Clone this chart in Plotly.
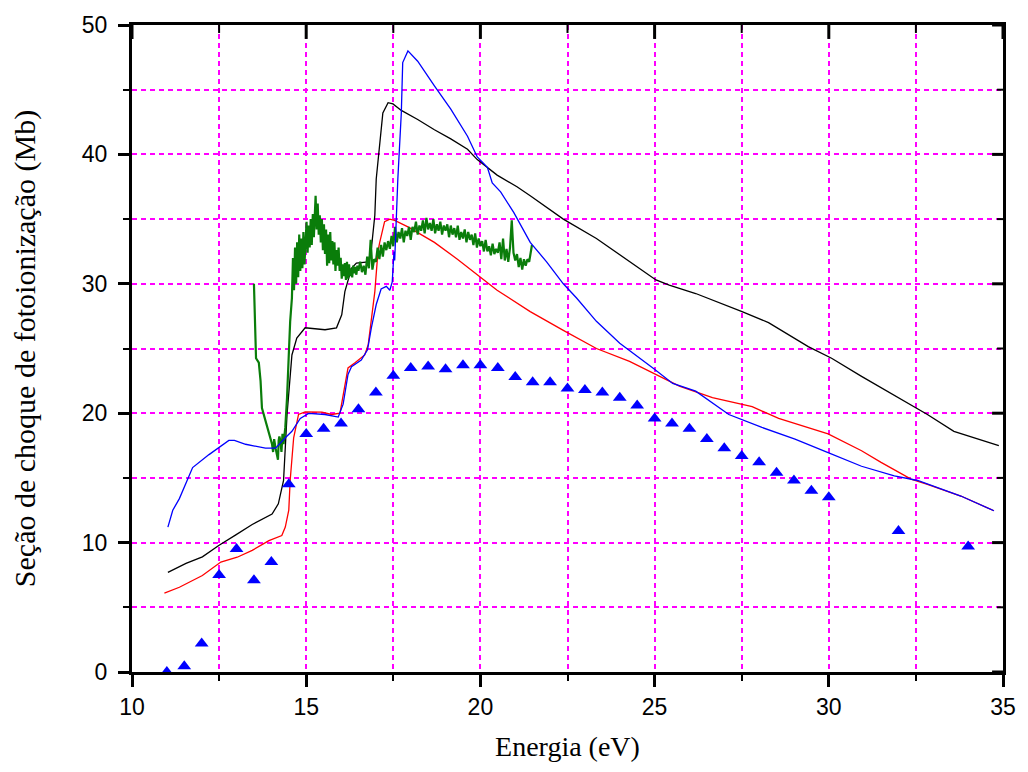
import plotly.graph_objects as go

# ---------------- data ----------------
tri_x = [11.0, 11.5, 12.0, 12.5, 13.0, 13.5, 14.0, 14.5, 15.0, 15.5, 16.0, 16.5, 17.0, 17.5,
         18.0, 18.5, 19.0, 19.5, 20.0, 20.5, 21.0, 21.5, 22.0, 22.5, 23.0, 23.5, 24.0, 24.5,
         25.0, 25.5, 26.0, 26.5, 27.0, 27.5, 28.0, 28.5, 29.0, 29.5, 30.0, 32.0, 34.0]
tri_y = [0.0, 0.45, 2.2, 7.5, 9.5, 7.1, 8.5, 14.5, 18.4, 18.8, 19.2, 20.3, 21.6, 22.9,
         23.5, 23.6, 23.4, 23.7, 23.7, 23.5, 22.8, 22.4, 22.4, 21.9, 21.8, 21.6, 21.2, 20.6,
         19.6, 19.2, 18.8, 18.0, 17.3, 16.7, 16.2, 15.4, 14.8, 14.0, 13.5, 10.9, 9.7]

black_x = [11.03, 11.55, 12.02, 12.5, 12.98, 13.45, 14.02, 14.2, 14.35, 14.45, 14.59, 14.73,
           14.97, 15.54, 15.87, 16.02, 16.11, 16.3, 16.44, 16.78, 16.87, 16.97, 17.01, 17.11,
           17.2, 17.35, 17.49, 17.73, 18.2, 18.68, 19.15, 19.63, 19.91, 20.48, 21.05, 21.43,
           22.38, 23.33, 24.24, 25.04, 25.42, 26.18, 27.51, 28.27, 29.41, 30.08, 30.94, 31.88,
           32.83, 33.59, 34.26, 34.88]
black_y = [7.7, 8.4, 8.9, 9.8, 10.6, 11.4, 12.2, 13.0, 14.8, 19.9, 24.5, 25.8,
           26.6, 26.45, 26.6, 27.6, 29.4, 31.2, 31.6, 31.7, 32.7, 35.3, 38.1, 40.7,
           43.2, 44.0, 43.9, 43.4, 42.7, 41.9, 41.2, 40.4, 39.6, 38.4, 37.5, 36.8,
           35.0, 33.5, 31.8, 30.3, 29.9, 29.25, 27.85, 27.0, 25.15, 24.25, 22.85, 21.4,
           19.9, 18.6, 18.05, 17.5]

red_x = [10.93, 11.36, 12.02, 12.55, 13.02, 13.45, 13.93, 14.3, 14.4, 14.5, 14.54, 14.64,
         14.78, 14.97, 15.45, 15.73, 15.97, 16.11, 16.2, 16.4, 16.68, 16.78, 16.87, 16.97,
         17.06, 17.11, 17.25, 17.4, 17.54, 17.92, 18.68, 19.34, 20.48, 20.96, 21.43, 22.38,
         23.33, 24.28, 25.04, 25.71, 26.66, 27.8, 28.56, 29.98, 30.94, 31.5, 32.36, 32.83,
         33.79, 34.74]
red_y = [6.1, 6.55, 7.46, 8.5, 8.87, 9.4, 10.15, 10.54, 11.2, 12.5, 14.8, 18.1,
         19.9, 20.1, 20.08, 19.9, 20.0, 22.2, 23.5, 23.9, 24.5, 25.3, 27.3, 29.4,
         32.5, 33.2, 34.8, 35.0, 34.9, 34.4, 33.2, 31.9, 29.5, 28.7, 27.85, 26.4,
         25.0, 24.0, 23.0, 22.1, 21.2, 20.5, 19.6, 18.4, 17.1, 16.2, 14.9, 14.5,
         13.6, 12.46]

blue_x = [11.03, 11.17, 11.36, 11.74, 12.21, 12.78, 12.94, 13.26, 13.83, 14.12, 14.4, 14.59,
          14.83, 15.07, 15.54, 15.92, 16.06, 16.2, 16.3, 16.58, 16.76, 16.87, 17.01, 17.15,
          17.3, 17.4, 17.47, 17.52, 17.54, 17.63, 17.73, 17.77, 17.92, 18.2, 18.68, 19.15,
          19.63, 19.91, 20.2, 20.34, 20.58, 20.96, 21.43, 21.9, 22.38, 22.76, 23.33, 24.0,
          24.95, 25.52, 26.18, 27.13, 28.08, 29.03, 29.98, 30.94, 31.88, 32.55, 33.79, 34.74]
blue_y = [11.2, 12.5, 13.4, 15.8, 16.8, 17.9, 17.9, 17.6, 17.3, 17.3, 18.1, 18.6,
          19.6, 19.98, 19.9, 19.7, 20.7, 23.0, 23.6, 24.1, 24.9, 26.6, 28.4, 29.6,
          29.8, 29.5, 30.15, 32.5, 31.8, 38.1, 43.2, 47.1, 48.0, 47.2, 45.3, 43.5,
          41.4, 39.8, 39.0, 37.8, 37.1, 35.5, 33.2, 31.7, 30.0, 28.9, 27.1, 25.4,
          23.5, 22.3, 21.7, 19.9, 18.9, 18.0, 16.95, 15.9, 15.15, 14.8, 13.6, 12.46]

green_x = [13.50, 13.53, 13.56, 13.64, 13.69, 13.73, 13.83, 13.93, 14.02, 14.05, 14.08, 14.12,
           14.16, 14.19, 14.21, 14.23, 14.26, 14.29, 14.32, 14.35, 14.40, 14.45, 14.50, 14.54,
           14.59,
           14.62, 14.65, 14.68, 14.71, 14.74, 14.77, 14.80, 14.83, 14.86, 14.89, 14.92, 14.95,
           14.98, 15.01, 15.04, 15.07, 15.10, 15.13, 15.16, 15.19, 15.22, 15.25, 15.27, 15.30,
           15.33, 15.36, 15.39, 15.42, 15.45, 15.48, 15.51, 15.54, 15.57, 15.60, 15.63, 15.66,
           15.69, 15.72, 15.75, 15.78, 15.81, 15.84, 15.87, 15.90, 15.93, 15.96, 15.99, 16.02,
           16.05, 16.08, 16.11, 16.14, 16.17, 16.20, 16.23, 16.26, 16.29, 16.32, 16.35, 16.38,
           16.41, 16.44, 16.47,
           16.50, 16.55, 16.60, 16.65, 16.70, 16.75, 16.80, 16.85, 16.90, 16.95, 17.00, 17.05,
           17.10, 17.15, 17.20, 17.25, 17.30, 17.35, 17.40, 17.45, 17.50, 17.55, 17.60, 17.65,
           17.70, 17.75, 17.80, 17.85, 17.90, 17.95, 18.00, 18.05, 18.10, 18.15, 18.20, 18.25,
           18.30, 18.35, 18.40, 18.45, 18.50, 18.55, 18.60, 18.65, 18.70, 18.75, 18.80, 18.85,
           18.90, 18.95, 19.00, 19.05, 19.10, 19.15, 19.20, 19.25, 19.30, 19.35, 19.40, 19.45,
           19.50, 19.55, 19.60, 19.65, 19.70, 19.75, 19.80, 19.85, 19.90, 19.95, 20.00, 20.05,
           20.10, 20.15, 20.20, 20.25, 20.30, 20.35, 20.40, 20.45, 20.50, 20.55, 20.60, 20.65,
           20.70, 20.75, 20.80, 20.85, 20.90, 20.95, 21.00, 21.05, 21.10, 21.15, 21.20, 21.25,
           21.30, 21.35, 21.40, 21.45, 21.48]
green_y = [30.0, 26.6, 24.25, 23.9, 22.5, 20.4, 19.4, 18.4, 17.6, 17.0, 18.0, 17.3,
           16.6, 16.4, 17.9, 18.2, 17.85, 17.0, 18.4, 17.6, 18.9, 21.2, 24.5, 27.1,
           28.9,
           32.0, 29.5, 32.8, 30.0, 33.2, 30.5, 33.8, 31.0, 33.5, 31.2, 34.0, 31.5,
           33.6, 34.8, 32.4, 34.5, 32.8, 35.0, 33.0, 35.4, 33.6, 36.0, 36.8, 34.2,
           36.2, 33.8, 35.3, 33.2, 35.0, 32.6, 34.6, 32.3, 34.2, 31.4, 33.8, 31.6,
           34.0, 31.8, 33.3, 31.5, 33.2, 31.0, 32.6, 31.4, 32.8, 31.0, 32.0, 30.4,
           31.5, 30.6, 31.6, 30.3, 31.7, 30.4, 31.5, 30.6, 31.2, 30.5, 31.4, 30.8,
           31.3, 30.7, 31.4,
           31.0, 31.7, 30.9, 31.4, 30.7, 32.1, 31.2, 33.4, 31.1, 31.9, 31.7, 32.8,
           31.9, 33.0, 32.1, 33.2, 32.6, 33.3, 32.7, 33.7, 32.9, 34.4, 33.2, 34.0,
           33.5, 34.3, 33.2, 34.1, 33.7, 34.4, 33.4, 34.4, 34.0, 34.8, 33.8, 34.5,
           34.1, 34.9, 33.9, 35.1, 34.2, 34.7, 34.1, 35.0, 33.9, 34.6, 34.1, 34.8,
           33.8, 34.5, 34.1, 34.6, 33.6, 34.5, 33.8, 34.3, 33.6, 34.5, 33.4, 34.0,
           33.5, 34.2, 33.2, 34.0, 33.4, 33.8, 33.0, 33.9, 32.8, 33.5, 32.9, 33.3,
           32.5, 33.4, 32.5, 32.9, 32.2, 33.1, 32.3, 32.7, 32.4, 33.2, 31.9, 33.5,
           31.8, 32.7, 31.7, 32.8, 34.9, 32.4, 31.8, 32.3, 31.3, 32.0, 31.1, 31.9,
           31.4, 31.9, 31.7, 32.5, 33.0]

x_ticks = [10, 15, 20, 25, 30, 35]
x_minor = [12.5, 17.5, 22.5, 27.5, 32.5]
y_ticks = [0, 10, 20, 30, 40, 50]
y_minor = [5, 15, 25, 35, 45]

# ---------------- figure ----------------
fig = go.Figure()
fig.add_trace(go.Scatter(x=black_x, y=black_y, mode="lines",
                         line=dict(color="#000000", width=1.3), showlegend=False))
fig.add_trace(go.Scatter(x=red_x, y=red_y, mode="lines",
                         line=dict(color="#FF0000", width=1.3), showlegend=False))
fig.add_trace(go.Scatter(x=green_x, y=green_y, mode="lines",
                         line=dict(color="#0A7D0A", width=2.2), showlegend=False))
fig.add_trace(go.Scatter(x=blue_x, y=blue_y, mode="lines",
                         line=dict(color="#0000FF", width=1.3), showlegend=False))
fig.add_trace(go.Scatter(x=tri_x, y=tri_y, mode="markers",
                         marker=dict(symbol="triangle-up", size=12, color="#0000FF"),
                         showlegend=False))

grid_style = dict(showgrid=True, gridcolor="#FF00FF", gridwidth=1.6, griddash="5px,4px")

PLOT_W = 1028 - 132 - 19
PLOT_H = 772 - 22 - 100

fig.update_layout(
    width=1028, height=772,
    margin=dict(l=132, r=19, t=22, b=100),
    paper_bgcolor="white", plot_bgcolor="white",
    font=dict(family="Liberation Sans", size=23, color="black"),
    xaxis=dict(
        range=[10, 35], tickmode="array", tickvals=x_ticks,
        ticktext=[str(v) for v in x_ticks],
        ticks="outside", ticklen=12, tickwidth=3, tickcolor="black",
        showline=True, linewidth=3, linecolor="black", mirror=True, zeroline=False,
        **grid_style,
        minor=dict(dtick=2.5, tick0=10, ticks="outside", ticklen=6, tickwidth=2,
                   tickcolor="black", showgrid=True, gridcolor="#FF00FF",
                   gridwidth=1.6, griddash="5px,4px"),
        title=dict(text="Energia (eV)", font=dict(family="Liberation Serif", size=28),
                   standoff=18),
        tickfont=dict(family="Liberation Sans", size=23),
    ),
    yaxis=dict(
        range=[0, 50], tickmode="array", tickvals=y_ticks,
        ticktext=[str(v) for v in y_ticks],
        ticks="outside", ticklen=11, tickwidth=3, tickcolor="black",
        showline=True, linewidth=3, linecolor="black", mirror=True, zeroline=False,
        **grid_style,
        minor=dict(dtick=5, tick0=0, ticks="outside", ticklen=6, tickwidth=2,
                   tickcolor="black", showgrid=True, gridcolor="#FF00FF",
                   gridwidth=1.6, griddash="5px,4px"),
        title=dict(text="Seção de choque de fotoionização (Mb)",
                   font=dict(family="Liberation Serif", size=30), standoff=38),
        tickfont=dict(family="Liberation Sans", size=23),
        ticklabelstandoff=6,
    ),
)

# inward-pointing tick marks on the top and right frame edges (from the tick lists)
for vals, length, width in ((x_ticks, 14, 3), (x_minor, 8, 2)):
    for v in vals:
        fig.add_shape(type="line", xref="x", yref="paper", x0=v, x1=v,
                      y0=1, y1=1 - length / PLOT_H,
                      line=dict(color="black", width=width), layer="above")
for vals, length, width in ((y_ticks, 11, 3), (y_minor, 6, 2)):
    for v in vals:
        fig.add_shape(type="line", xref="paper", yref="y", x0=1, x1=1 - length / PLOT_W,
                      y0=v, y1=v, line=dict(color="black", width=width), layer="above")

fig.write_html("out.html")
